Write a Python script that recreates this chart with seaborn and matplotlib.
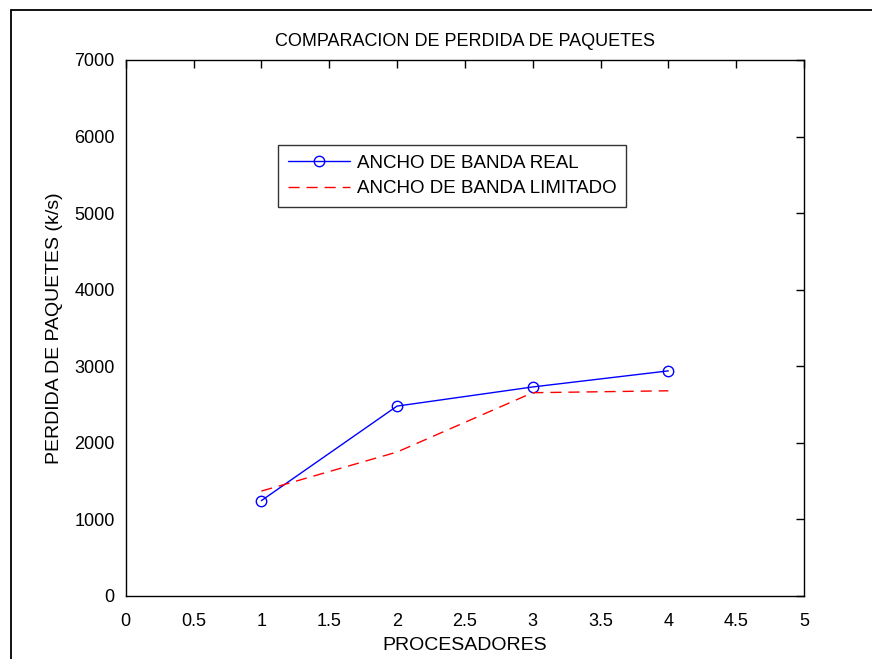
import matplotlib
matplotlib.use("Agg")
import matplotlib.pyplot as plt
import seaborn as sns
import pandas as pd
from matplotlib.patches import Rectangle

procesadores = [1, 2, 3, 4]
banda_real = [1245, 2480, 2730, 2940]
banda_limitado = [1370, 1880, 2655, 2680]
x_ticks = [0, 0.5, 1, 1.5, 2, 2.5, 3, 3.5, 4, 4.5, 5]
x_tick_labels = ["0", "0.5", "1", "1.5", "2", "2.5", "3", "3.5", "4", "4.5", "5"]
y_ticks = [0, 1000, 2000, 3000, 4000, 5000, 6000, 7000]

sns.set_theme(style="white")
plt.rcParams['font.family'] = ['Liberation Sans', 'DejaVu Sans']
plt.rcParams['text.color'] = 'black'
plt.rcParams['axes.labelcolor'] = 'black'

df_real = pd.DataFrame({"x": procesadores, "y": banda_real})
df_lim = pd.DataFrame({"x": procesadores, "y": banda_limitado})

fig = plt.figure(figsize=(8.72, 6.59), dpi=100)
ax = fig.add_axes([125.7 / 872, 63 / 659, (804 - 125.7) / 872, (596 - 60) / 659])

# outer frame (partially cropped)
fig.patches.append(Rectangle((11 / 872, -0.2), 1.2, (659 - 10) / 659 + 0.2,
                             transform=fig.transFigure, fill=False,
                             edgecolor="black", lw=1.3, zorder=0))

sns.lineplot(data=df_real, x="x", y="y", ax=ax, color=(0, 0, 1), lw=1.0,
             marker="o", markersize=7.5, markerfacecolor="none",
             markeredgecolor=(0, 0, 1), markeredgewidth=1.0,
             label="ANCHO DE BANDA REAL")
sns.lineplot(data=df_lim, x="x", y="y", ax=ax, color=(1, 0, 0), lw=1.0,
             linestyle=(0, (8, 5)), label="ANCHO DE BANDA LIMITADO")

ax.set_xlim(0, 5)
ax.set_ylim(0, 7000)
ax.set_xticks(x_ticks)
ax.set_xticklabels(x_tick_labels)
ax.set_yticks(y_ticks)
ax.tick_params(direction="in", length=6, width=1, top=True, right=True,
               labelsize=13, colors="black", pad=8)
ax.tick_params(axis="x", pad=12)
for s in ax.spines.values():
    s.set_visible(True)
    s.set_color("black")
    s.set_linewidth(1.0)

ax.set_title("COMPARACION DE PERDIDA DE PAQUETES", fontsize=13, pad=10, color="black")
ax.set_xlabel("PROCESADORES", fontsize=14, labelpad=5, color="black")
ax.set_ylabel("PERDIDA DE PAQUETES (k/s)", fontsize=14, labelpad=8, color="black")

leg = ax.legend(loc="upper left", bbox_to_anchor=(0.225, 0.841), fontsize=13.5,
                frameon=True, fancybox=False, edgecolor="black",
                handlelength=3.3, borderpad=0.5, labelspacing=0.45,
                handletextpad=0.4, borderaxespad=0)
leg.get_frame().set_linewidth(1.0)
for t in leg.get_texts():
    t.set_color("black")

fig.savefig("out.png", dpi=100, facecolor="white")
